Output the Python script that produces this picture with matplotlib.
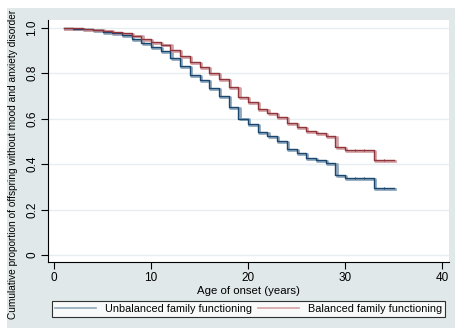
import matplotlib
matplotlib.use("Agg")
import matplotlib.pyplot as plt
import matplotlib.transforms as mtransforms
from matplotlib.patches import Rectangle
from matplotlib.lines import Line2D

plt.rcParams['font.family'] = ['Liberation Sans', 'DejaVu Sans']

# ---- data ----
unbal_time = [1, 2, 3, 4, 5, 6, 7, 8, 9, 10, 11, 12, 13, 14, 15, 16, 17, 18,
              19, 20, 21, 22, 23, 24, 25, 26, 27, 28, 29, 30, 33, 35]
unbal_surv = [1.0, 0.996, 0.993, 0.99, 0.982, 0.975, 0.966, 0.95, 0.931, 0.913,
              0.897, 0.865, 0.831, 0.793, 0.768, 0.735, 0.70, 0.651, 0.60, 0.575,
              0.541, 0.522, 0.50, 0.466, 0.447, 0.426, 0.419, 0.403, 0.352, 0.338,
              0.294, 0.294]
bal_time = [1, 2, 3, 4, 5, 6, 7, 8, 9, 10, 11, 12, 13, 14, 15, 16, 17, 18,
            19, 20, 21, 22, 23, 24, 25, 26, 27, 28, 29, 30, 33, 35]
bal_surv = [1.0, 0.997, 0.995, 0.992, 0.987, 0.98, 0.975, 0.965, 0.95, 0.938,
            0.926, 0.90, 0.875, 0.849, 0.826, 0.80, 0.774, 0.737, 0.694, 0.674,
            0.643, 0.625, 0.606, 0.581, 0.562, 0.546, 0.538, 0.524, 0.475, 0.46,
            0.416, 0.416]
censor_times = [31, 32, 34]
labels = ["Unbalanced family functioning", "Balanced family functioning"]
x_ticks = [0, 10, 20, 30, 40]
y_ticks = [0, 0.2, 0.4, 0.6, 0.8, 1.0]
y_ticklabels = ["0", "0.2", "0.4", "0.6", "0.8", "1.0"]

blue = "#1a476f"
blue_light = "#8fa8bc"
red = "#90353b"
red_light = "#d3a2a6"
bg = "#e0e8ea"

W, H = 456, 328
fig = plt.figure(figsize=(W / 100, H / 100), dpi=100)
fig.patch.set_facecolor("white")
fig.add_artist(Rectangle((7 / W, 0), 1 - 7 / W, 1 - 8 / H, transform=fig.transFigure,
                         facecolor=bg, edgecolor="none", zorder=-10))

ax = fig.add_axes([48 / W, (H - 262) / H, (449 - 48) / W, (262 - 20) / H])
ax.set_facecolor("white")
ax.set_xlim(-0.62, 40.72)
ax.set_ylim(-0.031, 1.034)

for y in y_ticks:
    ax.axhline(y, color="#e6eef0", lw=1.0, zorder=0)

shift = mtransforms.offset_copy(ax.transData, fig=fig, x=1.2, y=-0.8, units="dots")

def km_with_censor(t, s, ct):
    cs = []
    for c in ct:
        val = s[0]
        for ti, si in zip(t, s):
            if ti <= c:
                val = si
        cs.append(val)
    return cs

for t, s, c, cl in [(unbal_time, unbal_surv, blue, blue_light),
                    (bal_time, bal_surv, red, red_light)]:
    ax.step(t, s, where="post", color=cl, lw=2.0, transform=shift, zorder=2)
    ax.step(t, s, where="post", color=c, lw=1.0, zorder=3)
    cs = km_with_censor(t, s, censor_times)
    ax.plot(censor_times, cs, linestyle="none", marker="|", markersize=2,
            markeredgewidth=0.8, color=c, zorder=4)

ax.set_xticks(x_ticks)
ax.set_yticks(y_ticks)
ax.set_yticklabels(y_ticklabels, rotation=90, va="center")
ax.tick_params(axis="both", direction="out", length=5, width=0.8, labelsize=8.5,
               color="black", pad=2)
for side in ["top", "right"]:
    ax.spines[side].set_visible(False)
for side in ["left", "bottom"]:
    ax.spines[side].set_linewidth(0.8)

ax.set_xlabel("Age of onset (years)", fontsize=8.2, labelpad=2)
fig.text(13 / W, 0.5, "Cumulative proportion of offspring without mood and anxiety disorder",
         rotation=90, ha="center", va="center", fontsize=7.3)

handles = [Line2D([], [], color=blue_light, lw=1.2), Line2D([], [], color=red_light, lw=1.2)]
leg = fig.legend(handles, labels, loc="center", ncol=2, mode="expand",
                 bbox_to_anchor=(52 / W, (H - 319) / H, (445 - 52) / W, 20 / H),
                 fontsize=7.8, frameon=True, fancybox=False, shadow=False,
                 handlelength=3.8, handletextpad=0.8, borderpad=0.3,
                 borderaxespad=0, columnspacing=1.0)
leg.get_frame().set_edgecolor("black")
leg.get_frame().set_linewidth(0.8)
leg.get_frame().set_facecolor("white")

fig.savefig("out.png", dpi=100, facecolor=fig.get_facecolor())
